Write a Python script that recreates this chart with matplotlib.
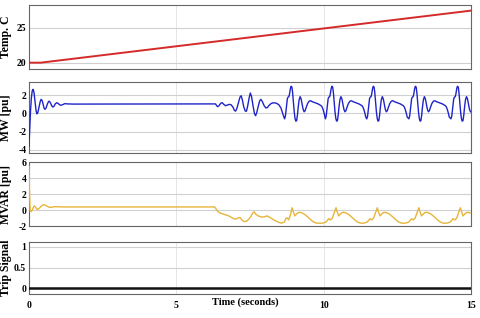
import matplotlib
matplotlib.use("Agg")
import matplotlib.pyplot as plt

# ---------------- data ----------------
temp_t = [0.0, 0.4, 15.0]
temp_v = [20.0, 20.0, 27.4]

# MW: start-up transient, flat part and first disturbance (explicit)
mw_start_t = [0.0, 0.02, 0.05, 0.08, 0.11, 0.14, 0.17, 0.21, 0.24, 0.27, 0.30, 0.34, 0.38,
              0.41, 0.45, 0.48, 0.51, 0.54, 0.58, 0.62, 0.66, 0.69, 0.73, 0.77, 0.81, 0.85,
              0.89, 0.94, 0.99, 1.04, 1.09, 1.15, 1.22, 1.30, 1.5, 6.33,
              6.37, 6.40, 6.44, 6.48, 6.52, 6.56, 6.61, 6.67, 6.73, 6.80, 6.86, 6.92, 6.97,
              7.01, 7.05, 7.11, 7.16, 7.20, 7.24, 7.29, 7.34, 7.38, 7.42, 7.47, 7.51, 7.55,
              7.60, 7.65, 7.69, 7.73, 7.78, 7.83, 7.87, 7.92, 7.98, 8.04, 8.09, 8.15, 8.22,
              8.30, 8.40, 8.48, 8.55, 8.60, 8.64]
mw_start_v = [-3.6, -2.0, 0.2, 1.7, 2.5, 2.65, 2.3, 1.2, 0.3, -0.05, 0.1, 0.7, 1.3,
              1.55, 1.4, 1.0, 0.6, 0.45, 0.6, 1.0, 1.3, 1.35, 1.15, 0.85, 0.7, 0.8,
              1.05, 1.18, 1.1, 0.95, 0.9, 0.98, 1.08, 1.05, 1.03, 1.05,
              0.85, 0.75, 0.82, 1.0, 1.15, 1.18, 1.0, 0.85, 0.92, 1.0, 0.95, 0.7, 0.35,
              0.25, 0.5, 1.2, 1.8, 1.95, 1.5, 0.7, 0.25, 0.25, 0.8, 1.7, 2.25, 1.9,
              0.9, 0.0, -0.25, 0.1, 0.8, 1.4, 1.55, 1.3, 0.85, 0.6, 0.65, 0.9, 1.1,
              1.18, 1.12, 0.95, 0.6, 0.1, -0.3]
# MW: repeating swing read around each big peak
mw_peak_times = [8.912, 10.296, 11.701, 13.129, 14.558]
mw_swing_offsets = [-0.238, -0.211, -0.187, -0.163, -0.143, -0.119, -0.092, -0.068, -0.041,
                    -0.017, 0.010, 0.034, 0.061, 0.088, 0.116, 0.143, 0.170, 0.197, 0.224,
                    0.255, 0.289, 0.323, 0.357, 0.391, 0.425, 0.459, 0.493, 0.544, 0.595,
                    0.646, 0.697, 0.765, 0.833, 0.901, 0.952, 1.003, 1.037, 1.071, 1.105, 1.133]
mw_swing_values = [-0.6, -0.3, 0.4, 1.2, 1.65, 1.8, 1.85, 2.2, 2.75,
                   3.0, 2.9, 2.3, 1.2, 0.2, -0.55, -0.85, -0.8, -0.2, 0.7,
                   1.5, 1.85, 1.6, 1.0, 0.45, 0.18, 0.3, 0.65, 1.1, 1.35,
                   1.4, 1.3, 1.22, 1.15, 1.05, 0.95, 0.85, 0.7, 0.4, 0.0, -0.4]

# MVAR: start-up, flat part and first disturbance (explicit)
mvar_start_t = [0.0, 0.02, 0.04, 0.08, 0.12, 0.16, 0.19, 0.23, 0.28, 0.33, 0.40, 0.46, 0.51,
                0.56, 0.62, 0.69, 0.75, 0.82, 0.9, 1.0, 1.2, 6.30,
                6.36, 6.42, 6.50, 6.62, 6.78, 6.90, 6.98, 7.06, 7.12, 7.18, 7.23, 7.30, 7.38,
                7.46, 7.54, 7.60, 7.64, 7.70, 7.78, 7.90, 8.00, 8.08, 8.18, 8.31, 8.44, 8.56,
                8.66, 8.72, 8.76, 8.81, 8.87]
mvar_start_v = [5.5, 2.0, -0.1, -0.15, 0.1, 0.45, 0.55, 0.35, 0.1, 0.2, 0.45, 0.65, 0.7,
                0.62, 0.5, 0.38, 0.36, 0.42, 0.46, 0.44, 0.42, 0.42,
                0.1, -0.2, -0.35, -0.5, -0.7, -0.95, -1.1, -1.05, -0.9, -0.95, -1.25, -1.4, -1.38,
                -1.1, -0.7, -0.3, -0.2, -0.5, -0.7, -0.85, -0.8, -0.7, -0.9, -1.2, -1.45, -1.6,
                -1.5, -1.0, -0.95, -1.2, -0.6]
# MVAR: repeating shape around each spike
mvar_spike_times = [8.93, 10.42, 11.82, 13.23, 14.64]
mvar_after_offsets = [0.0, 0.04, 0.09, 0.14, 0.20, 0.26, 0.33, 0.42, 0.52, 0.62, 0.72, 0.82]
mvar_after_values = [0.32, -0.2, -0.7, -0.5, -0.3, -0.25, -0.32, -0.5, -0.8, -1.15, -1.45, -1.6]
mvar_before_offsets = [-0.48, -0.36, -0.30, -0.25, -0.19, -0.13, -0.07]
mvar_before_values = [-1.62, -1.5, -1.3, -1.05, -1.2, -1.0, -0.4]

trip_t = [0.0, 15.0]
trip_v = [0.0, 0.0]

x_ticks = [0, 5, 10, 15]
x_ticklabels = ["0", "5", "10", "15"]
ylabels = ["Temp. C", "MW [pu]", "MVAR [pu]", "Trip Signal"]
yticks = [[20, 25], [-4, -2, 0, 2], [-2, 0, 2, 4, 6], [0, 0.5, 1]]
ytick_labels = [["20", "25"], ["-4", "-2", "0", "2"], ["-2", "0", "2", "4", "6"], ["0", "0.5", "1"]]
ylims = [(19.1, 28.2), (-4.4, 3.5), (-2.0, 6.0), (-0.14, 1.12)]

# ---------------- assemble series ----------------
mw_t = list(mw_start_t)
mw_v = list(mw_start_v)
for p in mw_peak_times:
    for o, v in zip(mw_swing_offsets, mw_swing_values):
        if p + o <= 15.0:
            mw_t.append(p + o)
            mw_v.append(v)

mvar_t = list(mvar_start_t)
mvar_v = list(mvar_start_v)
for k, s in enumerate(mvar_spike_times):
    if k > 0:
        for o, v in zip(mvar_before_offsets, mvar_before_values):
            mvar_t.append(s + o)
            mvar_v.append(v)
    for o, v in zip(mvar_after_offsets, mvar_after_values):
        if s + o <= 15.0:
            mvar_t.append(s + o)
            mvar_v.append(v)

# ---------------- figure ----------------
plt.rcParams['font.family'] = ['Liberation Serif', 'DejaVu Serif']
fig = plt.figure(figsize=(4.8, 3.18), dpi=100)

W = 480.0
H = 318.0
left_px, right_px = 29, 471
panels_px = [(5, 69), (81.7, 153.3), (162.3, 226.3), (241.7, 294.3)]

series = [(temp_t, temp_v, "#d42a2a", 1.4),
          (mw_t, mw_v, "#1f24c8", 1.0),
          (mvar_t, mvar_v, "#e6b53a", 1.0),
          (trip_t, trip_v, "#111111", 1.8)]

for i, (top, bot) in enumerate(panels_px):
    ax = fig.add_axes([left_px / W, 1 - bot / H, (right_px - left_px) / W, (bot - top) / H])
    t, v, c, lw = series[i]
    ax.plot(t, v, color=c, lw=lw, zorder=3, solid_joinstyle='round')
    ax.set_xlim(0, 15)
    ax.set_ylim(*ylims[i])
    ax.set_xticks(x_ticks)
    ax.set_yticks(yticks[i])
    ax.set_yticklabels(ytick_labels[i], fontsize=7, fontweight='bold')
    ax.yaxis.grid(True, color="#d0d0d0", lw=0.8)
    ax.xaxis.grid(True, color="#e6e6e6", lw=0.7)
    ax.set_axisbelow(True)
    for s in ax.spines.values():
        s.set_color("#666666")
        s.set_linewidth(0.8)
    ax.tick_params(axis='both', length=0, pad=2)
    ax.set_ylabel(ylabels[i], fontsize=8.5, fontweight='bold')
    ax.yaxis.set_label_coords(-0.038, 0.5)
    if i < 3:
        ax.set_xticklabels([])
    else:
        ax.set_xticklabels(x_ticklabels, fontsize=7, fontweight='bold')
        ax.tick_params(axis='x', pad=5)

fig.text(245 / W, 1 - 302 / H, "Time (seconds)", ha='center', va='center',
         fontsize=7.5, fontweight='bold')

fig.savefig("out.png", dpi=100)
